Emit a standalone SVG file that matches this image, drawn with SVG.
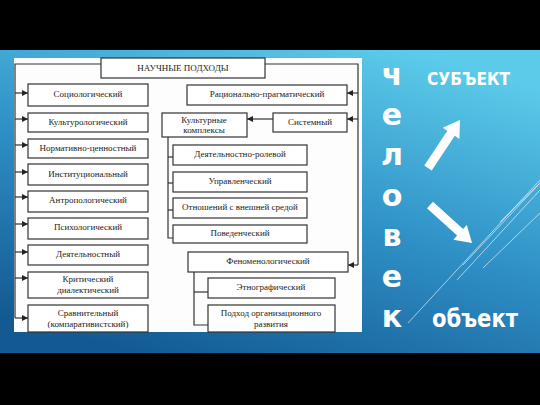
<svg xmlns="http://www.w3.org/2000/svg" width="540" height="405" viewBox="0 0 540 405">
<defs>
<linearGradient id="bg" x1="0.25" y1="1" x2="0.75" y2="0">
<stop offset="0" stop-color="#135a92"/>
<stop offset="0.5" stop-color="#2f90c6"/>
<stop offset="1" stop-color="#5ccbea"/>
</linearGradient>
<marker id="ah" viewBox="0 0 10 10" refX="10" refY="5" markerWidth="6" markerHeight="6" orient="auto" markerUnits="userSpaceOnUse">
<path d="M0,0 L10,5 L0,10 z" fill="#222"/>
</marker>
<style>
.box{fill:#fff;stroke:#333;stroke-width:1.2}
.t{font-family:"Liberation Serif","Times New Roman",serif;font-size:9px;fill:#222;text-anchor:middle}
.ln{fill:none;stroke:#333;stroke-width:1.2}
.arr{fill:none;stroke:#333;stroke-width:1.2;marker-end:url(#ah)}
.big{font-family:"DejaVu Sans",sans-serif;font-weight:bold;fill:#fff}
.deco{stroke:#fff;stroke-width:1;opacity:0.6}
</style>
</defs>
<rect x="0" y="0" width="540" height="405" fill="#000"/>
<rect x="0" y="50" width="540" height="303" fill="url(#bg)"/>
<rect x="14" y="58" width="348" height="274" fill="#fdfdfd"/>

<g id="connectors">
<polyline class="ln" points="101,64 15,64 15,318"/>
<polyline class="ln" points="265,64 358,64 358,265"/>
<line class="arr" x1="15" y1="93" x2="28" y2="93"/>
<line class="arr" x1="15" y1="119" x2="28" y2="119"/>
<line class="arr" x1="15" y1="145" x2="28" y2="145"/>
<line class="arr" x1="15" y1="172" x2="28" y2="172"/>
<line class="arr" x1="15" y1="197" x2="28" y2="197"/>
<line class="arr" x1="15" y1="224" x2="28" y2="224"/>
<line class="arr" x1="15" y1="252" x2="28" y2="252"/>
<line class="arr" x1="15" y1="278" x2="28" y2="278"/>
<line class="arr" x1="15" y1="318" x2="28" y2="318"/>
<line class="arr" x1="358" y1="93" x2="347" y2="93"/>
<line class="arr" x1="358" y1="119" x2="347" y2="119"/>
<line class="arr" x1="273" y1="119" x2="247" y2="119"/>
<line class="arr" x1="358" y1="265" x2="348" y2="265"/>
<polyline class="ln" points="168,137 168,238 173,238"/>
<line class="ln" x1="168" y1="157" x2="173" y2="157"/>
<line class="ln" x1="168" y1="183" x2="173" y2="183"/>
<line class="ln" x1="168" y1="210" x2="173" y2="210"/>
<polyline class="ln" points="194,272 194,325 208,325"/>
<line class="ln" x1="194" y1="292" x2="208" y2="292"/>
</g>

<g id="n-title"><rect class="box" x="101" y="58" width="164" height="20"/><text class="t" x="183" y="71">НАУЧНЫЕ ПОДХОДЫ</text></g>

<g id="n-socio"><rect class="box" x="28" y="84" width="120" height="22"/><text class="t" x="88" y="97">Социологический</text></g>
<g id="n-kulturo"><rect class="box" x="28" y="113" width="120" height="19"/><text class="t" x="88" y="125">Культурологический</text></g>
<g id="n-normativ"><rect class="box" x="28" y="139" width="120" height="19"/><text class="t" x="88" y="151">Нормативно-ценностный</text></g>
<g id="n-instit"><rect class="box" x="28" y="164" width="120" height="21"/><text class="t" x="88" y="177">Институциональный</text></g>
<g id="n-antropo"><rect class="box" x="28" y="191" width="120" height="21"/><text class="t" x="88" y="203">Антропологический</text></g>
<g id="n-psycho"><rect class="box" x="28" y="218" width="120" height="21"/><text class="t" x="88" y="230">Психологический</text></g>
<g id="n-deyat"><rect class="box" x="28" y="245" width="120" height="20"/><text class="t" x="88" y="257">Деятельностный</text></g>
<g id="n-krit"><rect class="box" x="28" y="272" width="120" height="26"/><text class="t" x="88" y="282">Критический</text><text class="t" x="88" y="293">диалектический</text></g>
<g id="n-sravn"><rect class="box" x="28" y="305" width="120" height="27"/><text class="t" x="88" y="316">Сравнительный</text><text class="t" x="88" y="327">(компаративистский)</text></g>

<g id="n-racio"><rect class="box" x="187" y="85" width="160" height="20"/><text class="t" x="267" y="97">Рационально-прагматический</text></g>
<g id="n-sistem"><rect class="box" x="273" y="113" width="74" height="19"/><text class="t" x="310" y="125">Системный</text></g>
<g id="n-kultkompl"><rect class="box" x="162" y="113" width="85" height="24"/><text class="t" x="204" y="123">Культурные</text><text class="t" x="204" y="133">комплексы</text></g>
<g id="n-rolev"><rect class="box" x="173" y="145" width="134" height="20"/><text class="t" x="240" y="157">Деятельностно-ролевой</text></g>
<g id="n-uprav"><rect class="box" x="173" y="172" width="134" height="20"/><text class="t" x="240" y="184">Управленческий</text></g>
<g id="n-otnosh"><rect class="box" x="173" y="198" width="134" height="20"/><text class="t" x="240" y="210">Отношений с внешней средой</text></g>
<g id="n-poved"><rect class="box" x="173" y="225" width="134" height="18"/><text class="t" x="240" y="236">Поведенческий</text></g>
<g id="n-fenomen"><rect class="box" x="188" y="252" width="160" height="20"/><text class="t" x="268" y="264">Феноменологический</text></g>
<g id="n-etno"><rect class="box" x="208" y="278" width="127" height="20"/><text class="t" x="271" y="290">Этнографический</text></g>
<g id="n-orgrazv"><rect class="box" x="208" y="305" width="127" height="27"/><text class="t" x="271" y="316">Подход организационного</text><text class="t" x="271" y="327">развития</text></g>

<g id="slide-decor">
<line class="deco" x1="408" y1="323" x2="540" y2="180"/>
<line class="deco" x1="463" y1="265" x2="540" y2="183"/>
<line class="deco" x1="457" y1="280" x2="540" y2="190"/>
<line class="deco" x1="483" y1="268" x2="540" y2="213"/>
<line class="deco" x1="500" y1="222" x2="540" y2="183"/>
</g>

<g id="n-chelovek">
<text class="big" x="392" y="85" font-size="30" text-anchor="middle">ч</text>
<text class="big" x="392" y="125" font-size="30" text-anchor="middle">е</text>
<text class="big" x="392" y="165" font-size="30" text-anchor="middle">л</text>
<text class="big" x="392" y="206" font-size="30" text-anchor="middle">о</text>
<text class="big" x="392" y="246" font-size="30" text-anchor="middle">в</text>
<text class="big" x="392" y="287" font-size="30" text-anchor="middle">е</text>
<text class="big" x="392" y="327" font-size="30" text-anchor="middle">к</text>
</g>
<g id="n-subekt"><text class="big" x="427" y="85" font-size="17" fill="#eef8fc" textLength="83" lengthAdjust="spacingAndGlyphs">СУБЪЕКТ</text></g>
<g id="n-obekt"><text class="big" x="432" y="327" font-size="25" textLength="86" lengthAdjust="spacingAndGlyphs">объект</text></g>
<g id="arrow-up"><polygon fill="#fff" points="431.7,170.5 454.8,135.8 459.4,138.9 460,120 442.8,127.8 447.4,130.8 424.3,165.5"/></g>
<g id="arrow-down"><polygon fill="#fff" points="427,208.3 457.1,235.6 453.4,239.7 472,243 466.8,224.9 463.1,229 433,201.7"/></g>
</svg>
